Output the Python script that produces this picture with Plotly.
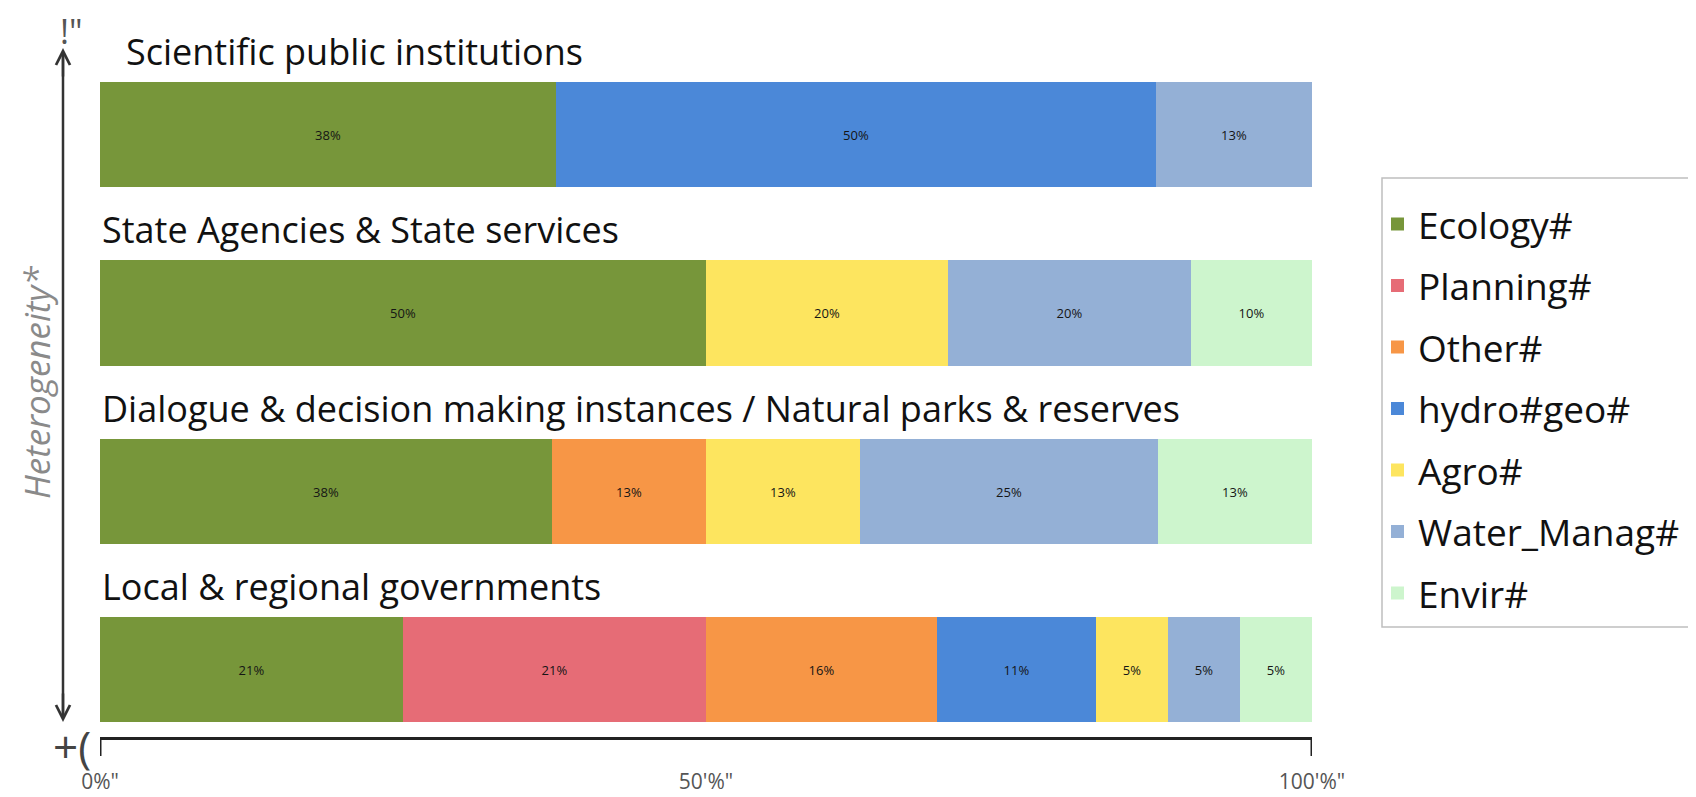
import plotly.graph_objects as go

# ---------------- data ----------------
categories = [
    "Local & regional governments",
    "Dialogue & decision making instances / Natural parks & reserves",
    "State Agencies & State services",
    "Scientific public institutions",
]
series_names = ["Ecology#", "Planning#", "Other#", "hydro#geo#", "Agro#", "Water_Manag#", "Envir#"]
# values (%) per series, in category order above
ecology = [21, 38, 50, 38]
planning = [21, None, None, None]
other = [16, 13, None, None]
hydro_geo = [11, None, None, 50]
agro = [5, 13, 20, None]
water_manag = [5, 25, 20, 13]
envir = [5, 13, 10, None]
x_ticks = [0, 50, 100]
x_tick_labels = ['0%"', '50\'%"', '100\'%"']

series_values = [ecology, planning, other, hydro_geo, agro, water_manag, envir]
colors = ["#77963A", "#E66C76", "#F79646", "#4B88D8", "#FDE55F", "#94B0D6", "#CDF5CD"]

# ---------------- layout constants ----------------
OFF = 8                       # default page margin of the html body
W, H = 1696 - OFF, 797 - OFF
FONT = "Open Sans"
X0, X1 = 100, 1312            # page-pixel extent of the 0..100 % axis
AXIS_Y = 738                  # page-pixel row of the x axis line


def px(xp):
    return (xp - OFF) / W


def py(yp):
    return 1 - (yp - OFF) / H


# y axis: category index -> page pixel (index 0 at 669.5, 178.3 px per step)
unit = 178.3
y_lo = -(H - (669.5 - OFF)) / unit
y_hi = y_lo + H / unit

fig = go.Figure()
for name, vals, col in zip(series_names, series_values, colors):
    fig.add_trace(go.Bar(
        y=categories, x=vals, name=name, orientation="h",
        marker=dict(color=col, line=dict(width=0)),
        text=[f"{v}%" if v is not None else "" for v in vals],
        textposition="inside", insidetextanchor="middle", textangle=0,
        textfont=dict(size=13, color="#151515", family=FONT),
        width=0.59, showlegend=False,
    ))

annotations = []
for cat in categories:
    annotations.append(dict(
        x=0, y=cat, xref="x", yref="y", text=cat, showarrow=False,
        xanchor="left", yanchor="middle", yshift=83,
        xshift=24 if cat.startswith("Scientific") else 0,
        font=dict(family=FONT, size=36, color="#111111"),
    ))

shapes = []

# legend (drawn as swatches + labels inside a framed box)
LEG_TOP, LEG_STEP = 224, 61.5
for i, (name, col) in enumerate(zip(series_names, colors)):
    cy = LEG_TOP + i * LEG_STEP
    shapes.append(dict(type="rect", xref="paper", yref="paper",
                       x0=px(1391), x1=px(1404), y0=py(cy - 6.5), y1=py(cy + 6.5),
                       fillcolor=col, line=dict(width=0)))
    annotations.append(dict(x=px(1416), y=py(cy), xref="paper", yref="paper", text=name,
                            showarrow=False, xanchor="left", yanchor="middle",
                            font=dict(family=FONT, size=37, color="#111111")))
shapes.append(dict(type="rect", xref="paper", yref="paper", x0=px(1382), x1=px(1692),
                   y0=py(178), y1=py(627), line=dict(color="#BFBFBF", width=1.5),
                   fillcolor="rgba(0,0,0,0)"))

# vertical double-headed arrow (heads as annotations; shaft is a shape)
annotations.append(dict(x=px(63), y=py(48), xref="paper", yref="paper", ax=0, ay=30,
                        text="", showarrow=True, arrowhead=5, arrowsize=1.1,
                        arrowwidth=2.5, arrowcolor="#333333"))
annotations.append(dict(x=px(63), y=py(722), xref="paper", yref="paper", ax=0, ay=-30,
                        text="", showarrow=True, arrowhead=5, arrowsize=1.1,
                        arrowwidth=2.5, arrowcolor="#333333"))
annotations.append(dict(x=px(58), y=py(31), xref="paper", yref="paper", text='!"',
                        showarrow=False, xanchor="left", yanchor="middle",
                        font=dict(family=FONT, size=34, color="#555555")))
annotations.append(dict(x=px(51), y=py(746), xref="paper", yref="paper", text="+(",
                        showarrow=False, xanchor="left", yanchor="middle",
                        font=dict(family=FONT, size=44, color="#444444")))
annotations.append(dict(x=px(37), y=py(383), xref="paper", yref="paper",
                        text="<i>Heterogeneity*</i>", textangle=-90, showarrow=False,
                        xanchor="center", yanchor="middle",
                        font=dict(family=FONT, size=35, color="#8a8a8a")))

shapes += [
    # arrow shaft
    dict(type="line", xref="paper", yref="paper", x0=px(63), x1=px(63), y0=py(56), y1=py(714),
         line=dict(color="#333333", width=2.5)),
    # right end tick of the x axis
    dict(type="line", xref="x", yref="paper", x0=100, x1=100, y0=py(AXIS_Y), y1=py(AXIS_Y + 18),
         line=dict(color="#222222", width=3)),
    # left end hook
    dict(type="line", xref="x", yref="paper", x0=0, x1=0, y0=py(AXIS_Y), y1=py(AXIS_Y + 18),
         line=dict(color="#222222", width=3)),
]

fig.update_layout(
    width=W, height=H,
    margin=dict(l=0, r=0, t=0, b=0),
    paper_bgcolor="white", plot_bgcolor="white",
    barmode="stack", barnorm="percent", bargap=0,
    showlegend=False,
    xaxis=dict(domain=[px(X0), px(X1)], range=[0, 100], anchor="free", position=py(AXIS_Y),
               showgrid=False, zeroline=False, showline=True, linecolor="#222222", linewidth=3,
               tickmode="array", tickvals=x_ticks, ticktext=x_tick_labels, ticks="",
               ticklabelstandoff=24, automargin=False,
               tickfont=dict(family=FONT, size=21, color="#555555")),
    yaxis=dict(domain=[0, 1], type="category", categoryorder="array", categoryarray=categories,
               range=[y_lo, y_hi], showgrid=False, zeroline=False, showline=False,
               showticklabels=False, automargin=False),
    annotations=annotations, shapes=shapes,
    font=dict(family=FONT),
)

fig.write_html("out.html")
